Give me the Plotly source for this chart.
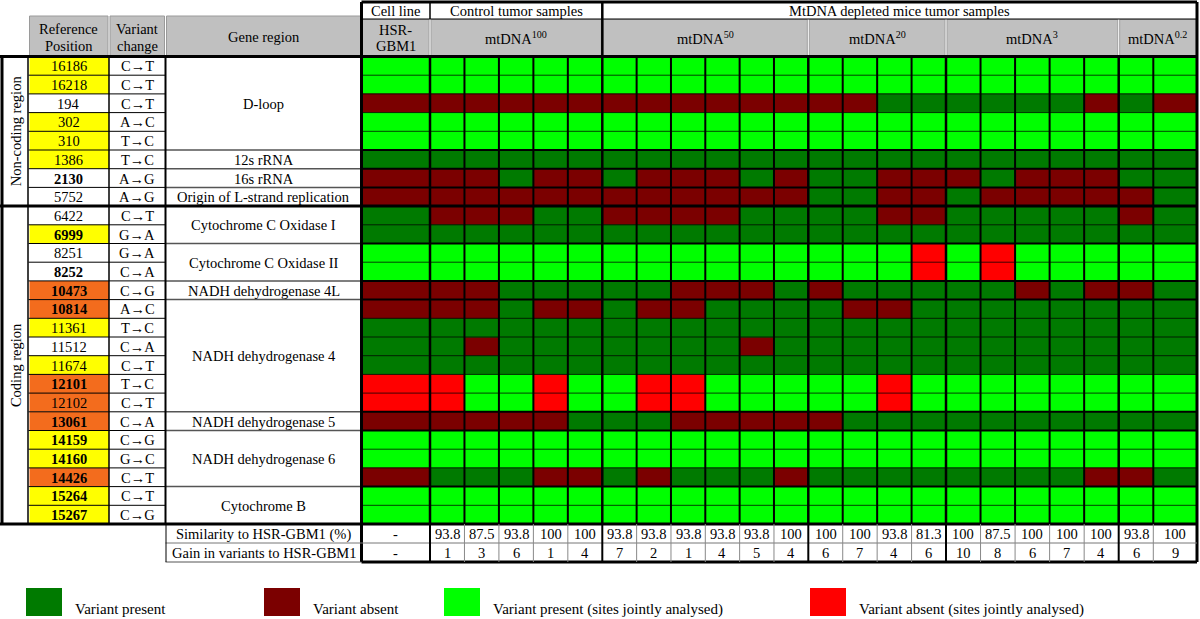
import plotly.graph_objects as go

# ---------------- data ----------------
positions = ["16186", "16218", "194", "302", "310", "1386", "2130", "5752", "6422", "6999",
             "8251", "8252", "10473", "10814", "11361", "11512", "11674", "12101", "12102",
             "13061", "14159", "14160", "14426", "15264", "15267"]
pos_bold = [0, 0, 0, 0, 0, 0, 1, 0, 0, 1, 0, 1, 1, 1, 0, 0, 0, 1, 0, 1, 1, 1, 1, 1, 1]
pos_fill = ["Y", "Y", "W", "Y", "Y", "Y", "W", "W", "W", "Y", "W", "W", "O", "O", "Y", "W", "Y",
            "O", "O", "O", "Y", "Y", "O", "Y", "Y"]
variants = ["C→T", "C→T", "C→T", "A→C", "T→C", "T→C", "A→G", "A→G", "C→T", "G→A", "G→A", "C→A",
            "C→G", "A→C", "T→C", "C→A", "C→T", "T→C", "C→T", "C→A", "C→G", "G→C", "C→T", "C→T", "C→G"]
gene_names = ["D-loop", "12s rRNA", "16s rRNA", "Origin of L-strand replication",
              "Cytochrome C Oxidase I", "Cytochrome C Oxidase II", "NADH dehydrogenase 4L",
              "NADH dehydrogenase 4", "NADH dehydrogenase 5", "NADH dehydrogenase 6", "Cytochrome B"]
gene_spans = [5, 1, 1, 1, 2, 2, 1, 6, 1, 3, 2]
region_names = ["Non-coding region", "Coding region"]
region_spans = [8, 17]

top_groups = ["Cell line", "Control tumor samples", "MtDNA depleted mice tumor samples"]
top_group_sizes = [1, 1, 4]          # in sample groups
sample_groups = ["HSR-GBM1", "mtDNA<sup>100</sup>", "mtDNA<sup>50</sup>", "mtDNA<sup>20</sup>",
                 "mtDNA<sup>3</sup>", "mtDNA<sup>0.2</sup>"]
sample_group_sizes = [1, 5, 6, 4, 5, 2]

# G = variant present, R = variant absent, L = present (jointly analysed), B = absent (jointly analysed)
status_rows = [
    "LLLLLLLLLLLLLLLLLLLLLLL",  # 16186
    "LLLLLLLLLLLLLLLLLLLLLLL",  # 16218
    "RRRRRRRRRRRRRRGGGGGGRGR",  # 194
    "LLLLLLLLLLLLLLLLLLLLLLL",  # 302
    "LLLLLLLLLLLLLLLLLLLLLLL",  # 310
    "GGGGGGGGGGGGGGGGGGGGGGG",  # 1386
    "RRRGRRGRRRGRGGRRRGRRRGG",  # 2130
    "RRRRRRRRRRRRGGRRGRRRRRG",  # 5752
    "GRRRGGRRRRGGGGRRGGGGGRG",  # 6422
    "GGGGGGGGGGGGGGGGGGGGGGG",  # 6999
    "LLLLLLLLLLLLLLLBLBLLLLL",  # 8251
    "LLLLLLLLLLLLLLLBLBLLLLL",  # 8252
    "RRRGGGGGRRRGRGGGGGRGRRG",  # 10473
    "RRRGRRGRRGGGGRRGGGGGGGG",  # 10814
    "GGGGGGGGGGGGGGGGGGGGGGG",  # 11361
    "GGRGGGGGGGRGGGGGGGGGGGG",  # 11512
    "GGGGGGGGGGGGGGGGGGGGGGG",  # 11674
    "BBLLBLLBBLLLLLBLLLLLLLL",  # 12101
    "BBLLBLLBBLLLLLBLLLLLLLL",  # 12102
    "RRRRRGGGRRRRRGGGGGGGGGG",  # 13061
    "LLLLLLLLLLLLLLLLLLLLLLL",  # 14159
    "LLLLLLLLLLLLLLLLLLLLLLL",  # 14160
    "RGGGRRGRGGGRGGGGGGGGRRG",  # 14426
    "LLLLLLLLLLLLLLLLLLLLLLL",  # 15264
    "LLLLLLLLLLLLLLLLLLLLLLL",  # 15267
]
status_codes = {"G": 0, "R": 1, "L": 2, "B": 3}
status_labels = ["Variant present", "Variant absent",
                 "Variant present (sites jointly analysed)", "Variant absent (sites jointly analysed)"]
status_colors = ["#007a00", "#7b0000", "#00ff00", "#ff0000"]

similarity = ["-", "93.8", "87.5", "93.8", "100", "100", "93.8", "93.8", "93.8", "93.8", "93.8", "100",
              "100", "100", "93.8", "81.3", "100", "87.5", "100", "100", "100", "93.8", "100"]
gain = ["-", "1", "3", "6", "1", "4", "7", "2", "1", "4", "5", "4", "6", "7", "4", "6", "10", "8",
        "6", "7", "4", "6", "9"]
footer_labels = ["Similarity to HSR-GBM1 (%)", "Gain in variants to HSR-GBM1"]

# ---------------- geometry (layout only) ----------------
W, H = 1200, 619
FONT = "Liberation Serif"
FS = 14.5
ROW_Y0, ROW_Y1 = 56.5, 524.0
n_rows = len(positions)
row_h = (ROW_Y1 - ROW_Y0) / n_rows
row_edges = [ROW_Y0 + i * row_h for i in range(n_rows + 1)]
group_x = [361.5, 430, 602.3, 808.3, 946, 1118.7, 1197]
col_edges = [group_x[0]]
for gi, size in enumerate(sample_group_sizes):
    x0, x1 = group_x[gi], group_x[gi + 1]
    if gi == len(sample_group_sizes) - 1:
        col_edges += [x0 + 34.6, x1]
    else:
        for k in range(1, size + 1):
            col_edges.append(x0 + (x1 - x0) * k / size)
col_centers = [(col_edges[i] + col_edges[i + 1]) / 2 for i in range(len(col_edges) - 1)]
row_centers = [(row_edges[i] + row_edges[i + 1]) / 2 for i in range(n_rows)]

X_REG0, X_REG1 = 2, 28
X_POS0, X_POS1 = 28.5, 109
X_VAR1 = 165.5
X_GENE1 = group_x[0]
HDR_TOP_L = 16
HDR_TOP_R0, HDR_TOP_R1 = 2, 19
FOOT_Y = [524, 543, 562]

z = [[status_codes[c] for c in row] for row in status_rows]
cs = []
for i, col in enumerate(status_colors):
    cs.append([i / 4, col])
    cs.append([(i + 1) / 4, col])

fig = go.Figure()
fig.add_trace(go.Heatmap(z=z, x=col_edges, y=row_edges, zmin=-0.5, zmax=3.5,
                         colorscale=cs, showscale=False, hoverinfo="skip"))

shapes = []
ann = []


def line(x0, y0, x1, y1, color="black", width=1):
    shapes.append(dict(type="line", x0=x0, y0=y0, x1=x1, y1=y1, xref="x", yref="y",
                       line=dict(color=color, width=width)))


def rect(x0, y0, x1, y1, fill, lc=None, lw=0):
    shapes.append(dict(type="rect", x0=x0, y0=y0, x1=x1, y1=y1, xref="x", yref="y",
                       fillcolor=fill, line=dict(color=lc or fill, width=lw), layer="below"))


def text(x, y, s, size=FS, xanchor="center", angle=0, bold=False):
    if bold:
        s = "<b>" + s + "</b>"
    ann.append(dict(x=x, y=y, xref="x", yref="y", text=s, showarrow=False, xanchor=xanchor,
                    yanchor="middle", textangle=angle, font=dict(family=FONT, size=size, color="black")))


# ---- header (left) ----
GRAY = "#c0c0c0"
for x0, x1 in [(X_POS0, X_POS1), (X_POS1, X_VAR1), (X_VAR1, X_GENE1)]:
    rect(x0 + 1, HDR_TOP_L, x1 - 1, ROW_Y0, GRAY, "#9a9a9a", 1)
text((X_POS0 + X_POS1) / 2, 29, "Reference")
text((X_POS0 + X_POS1) / 2, 46, "Position")
text((X_POS1 + X_VAR1) / 2, 29, "Variant")
text((X_POS1 + X_VAR1) / 2, 46, "change")
text((X_VAR1 + X_GENE1) / 2, 37, "Gene region")

# ---- header (right) ----
gi = 0
for name, size in zip(top_groups, top_group_sizes):
    x0, x1 = group_x[gi], group_x[gi + size]
    text((x0 + x1) / 2, (HDR_TOP_R0 + HDR_TOP_R1) / 2 + 0.5, name)
    gi += size
for gi, name in enumerate(sample_groups):
    x0, x1 = group_x[gi], group_x[gi + 1]
    rect(x0 + 1, HDR_TOP_R1 + 0.5, x1 - 1, ROW_Y0, GRAY, "#a0a0a0", 1)
    if gi == 0:
        text((x0 + x1) / 2, 30, "HSR-")
        text((x0 + x1) / 2, 46, "GBM1")
    else:
        text((x0 + x1) / 2, 38, name)

# ---- left table body ----
fills = {"Y": "#ffff00", "O": "#f36c1d", "W": "white"}
for i in range(n_rows):
    if pos_fill[i] != "W":
        rect(X_POS0 + 1, row_edges[i], X_POS1, row_edges[i + 1], fills[pos_fill[i]])
    text((X_POS0 + X_POS1) / 2, row_centers[i] + 0.5, positions[i], bold=bool(pos_bold[i]))
    text((X_POS1 + X_VAR1) / 2, row_centers[i] + 0.5, variants[i])

r = 0
gene_bounds = []
for name, span in zip(gene_names, gene_spans):
    y0, y1 = row_edges[r], row_edges[r + span]
    text((X_VAR1 + X_GENE1) / 2, (y0 + y1) / 2 + 0.5, name)
    r += span
    gene_bounds.append(r)

r = 0
region_bounds = []
for name, span in zip(region_names, region_spans):
    y0, y1 = row_edges[r], row_edges[r + span]
    text((X_REG0 + X_REG1) / 2 + 1, (y0 + y1) / 2, name, angle=-90)
    r += span
    region_bounds.append(r)

# horizontal lines
for i in range(1, n_rows):
    y = row_edges[i]
    if i in region_bounds:
        line(0, y, group_x[-1], y, "black", 3)
        continue
    line(X_POS0, y, X_VAR1, y, "black", 1)
    if i in gene_bounds:
        line(X_VAR1, y, X_GENE1, y, "#555555", 1.5)
        line(X_GENE1, y, group_x[-1], y, "black", 2)
    else:
        line(X_GENE1, y, group_x[-1], y, "rgba(0,0,0,0.75)", 1)

# vertical lines in body
line(X_REG0, ROW_Y0, X_REG0, ROW_Y1, "black", 3)
line(X_REG1, ROW_Y0, X_REG1, ROW_Y1, "black", 1.5)
line(X_POS1, ROW_Y0, X_POS1, ROW_Y1, "black", 1.5)
line(X_VAR1, ROW_Y0, X_VAR1, ROW_Y1, "black", 2)
for x in col_edges[1:-1]:
    line(x, ROW_Y0, x, ROW_Y1, "black", 2.5 if x in group_x else 2)

# header separators
line(group_x[1], HDR_TOP_R0, group_x[1], HDR_TOP_R1, "black", 1.5)
line(group_x[2], HDR_TOP_R0, group_x[2], ROW_Y0, "black", 2.5)
line(group_x[0], HDR_TOP_R1, group_x[-1], HDR_TOP_R1, "black", 1)
line(group_x[0], HDR_TOP_R0, group_x[-1], HDR_TOP_R0, "black", 3)

# outer borders
line(0, ROW_Y0, group_x[-1], ROW_Y0, "black", 3)
line(0, ROW_Y1, group_x[-1], ROW_Y1, "black", 3)
line(group_x[0], HDR_TOP_R0, group_x[0], FOOT_Y[2], "black", 3)
line(group_x[-1], HDR_TOP_R0, group_x[-1], FOOT_Y[2], "black", 3)

# ---- footer ----
for j, (lab, vals) in enumerate(zip(footer_labels, [similarity, gain])):
    yc = (FOOT_Y[j] + FOOT_Y[j + 1]) / 2 + 0.5
    text((X_VAR1 + X_GENE1) / 2, yc, lab)
    for c, v in enumerate(vals):
        text(col_centers[c], yc, v)
line(X_VAR1, FOOT_Y[1], group_x[-1], FOOT_Y[1], "#777777", 1)
line(X_VAR1, FOOT_Y[2], group_x[0], FOOT_Y[2], "#555555", 1)
line(group_x[0], FOOT_Y[2], group_x[-1], FOOT_Y[2], "black", 3)
line(X_VAR1 + 0.5, FOOT_Y[0], X_VAR1 + 0.5, FOOT_Y[2], "black", 1)
for x in col_edges[1:-1]:
    if x in group_x:
        line(x, FOOT_Y[0], x, FOOT_Y[2], "black", 2)
    else:
        line(x, FOOT_Y[0], x, FOOT_Y[2], "#888888", 1)

# ---- legend ----
leg_sq_x = [26, 264, 444, 810]
for lx, lab, col in zip(leg_sq_x, status_labels, status_colors):
    rect(lx, 588, lx + 36, 616, col)
    text(lx + 47, 609, lab, size=15, xanchor="left")

fig.update_layout(
    width=W, height=H, margin=dict(l=0, r=0, t=0, b=0),
    paper_bgcolor="white", plot_bgcolor="white",
    xaxis=dict(range=[0, W], visible=False, fixedrange=True),
    yaxis=dict(range=[H, 0], visible=False, fixedrange=True),
    shapes=shapes, annotations=ann, showlegend=False,
)
fig.write_html("out.html", config={"displayModeBar": False},
               post_script="document.body.style.margin='0';document.body.style.overflow='hidden';")
